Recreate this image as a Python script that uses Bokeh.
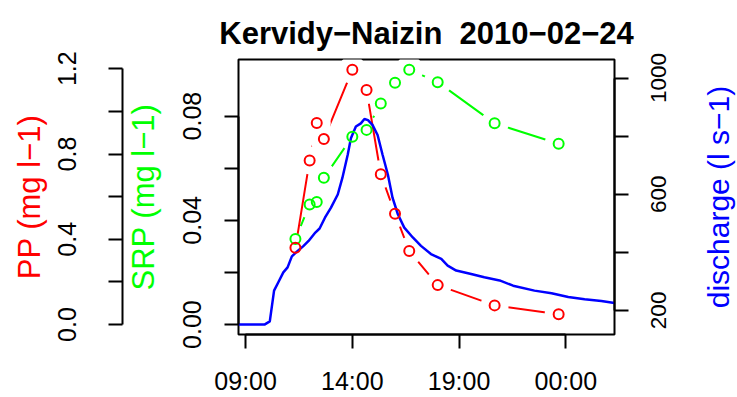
import math
import pandas as pd
from bokeh.plotting import figure
from bokeh.models import Range1d, LinearAxis, FixedTicker, DatetimeTickFormatter, Label
from bokeh.embed import file_html
from bokeh.resources import INLINE

# ---- data ----
TITLE = "Kervidy\u2212Naizin \u00a02010\u221202\u221224"
SAMPLE_TIMES = ["2010-02-24 11:20", "2010-02-24 12:00", "2010-02-24 12:20", "2010-02-24 12:40",
                "2010-02-24 14:00", "2010-02-24 14:40", "2010-02-24 15:20", "2010-02-24 16:00",
                "2010-02-24 16:40", "2010-02-24 18:00", "2010-02-24 20:40", "2010-02-24 23:40"]
PP = [0.36, 0.77, 0.945, 0.87, 1.195, 1.10, 0.705, 0.52, 0.345, 0.185, 0.09, 0.048]
SRP = [0.0328, 0.0461, 0.0470, 0.0563, 0.0721, 0.0747, 0.0848, 0.0928, 0.0978, 0.0930, 0.0772, 0.0694]

Q_TIMES = ["2010-02-24 08:40", "2010-02-24 09:53", "2010-02-24 10:08", "2010-02-24 10:20",
           "2010-02-24 10:32", "2010-02-24 10:46", "2010-02-24 10:58", "2010-02-24 11:10",
           "2010-02-24 11:24", "2010-02-24 11:43", "2010-02-24 11:57", "2010-02-24 12:16",
           "2010-02-24 12:28", "2010-02-24 12:43", "2010-02-24 13:00", "2010-02-24 13:19",
           "2010-02-24 13:32", "2010-02-24 13:47", "2010-02-24 13:56", "2010-02-24 14:10",
           "2010-02-24 14:24", "2010-02-24 14:34", "2010-02-24 14:44", "2010-02-24 14:57",
           "2010-02-24 15:11", "2010-02-24 15:25", "2010-02-24 15:40", "2010-02-24 15:53",
           "2010-02-24 16:08", "2010-02-24 16:26", "2010-02-24 16:50", "2010-02-24 17:13",
           "2010-02-24 17:41", "2010-02-24 18:10", "2010-02-24 18:28", "2010-02-24 18:52",
           "2010-02-24 19:34", "2010-02-24 20:11", "2010-02-24 20:54", "2010-02-24 21:32",
           "2010-02-24 22:32", "2010-02-24 23:20", "2010-02-25 00:07", "2010-02-25 00:53",
           "2010-02-25 01:40", "2010-02-25 02:17"]
Q = [151, 151, 162, 268, 297, 331, 348, 386, 402, 422, 439, 468, 482, 519, 554, 599,
     656, 736, 793, 833, 844, 859, 855, 838, 804, 736, 667, 588, 531, 485, 451, 422,
     394, 377, 354, 337, 325, 314, 303, 285, 268, 259, 246, 238, 232, 225]

X_TICKS = ["2010-02-24 09:00", "2010-02-24 14:00", "2010-02-24 19:00", "2010-02-25 00:00"]
SRP_TICKS = [0.0, 0.04, 0.08]
SRP_MINOR = [0.02, 0.06]
PP_TICKS = [0.0, 0.4, 0.8, 1.2]
PP_MINOR = [0.2, 0.6, 1.0]
Q_TICKS = [200, 600, 1000]
Q_MINOR = [400, 800]

st = pd.to_datetime(SAMPLE_TIMES)
qt = pd.to_datetime(Q_TIMES)
xt = pd.to_datetime(X_TICKS)
xt_ms = [t.value / 1e6 for t in xt]
x0_ms, x1_ms = qt[0].value / 1e6, qt[-1].value / 1e6

# ---- layout (pixels) ----
W, H = 737, 397
FRAME_L, FRAME_R, FRAME_T, FRAME_B = 238, 614, 59, 336
Y0, Y1 = -0.0038, 0.1017          # SRP (main) y range


def px_to_x(px):
    """canvas x pixel -> x data value, through the frame geometry"""
    return x0_ms + (px - FRAME_L) / (FRAME_R - FRAME_L) * (x1_ms - x0_ms)


def py_to_y(py):
    """canvas y pixel -> main y data value, through the frame geometry"""
    return Y0 + (FRAME_B - py) / (FRAME_B - FRAME_T) * (Y1 - Y0)


FONT = "Liberation Sans"
RED, GREEN, BLUE = "#FF0000", "#00FF00", "#0000FF"

p = figure(width=W, height=H, x_axis_type="datetime",
           output_backend="svg", toolbar_location=None,
           x_range=Range1d(qt[0], qt[-1]),
           y_range=Range1d(Y0, Y1),
           min_border_left=FRAME_L, min_border_right=W - FRAME_R,
           min_border_top=FRAME_T, min_border_bottom=H - FRAME_B)
p.extra_y_ranges = {"pp": Range1d(-0.0466, 1.2433), "q": Range1d(116.9, 1063.9)}
p.grid.visible = False
p.outline_line_color = "black"
p.outline_line_width = 2
p.background_fill_color = "white"
p.border_fill_color = "white"


def style_axis(ax, standoff=15):
    ax.axis_line_width = 2
    ax.axis_line_color = "black"
    ax.major_tick_line_width = 2
    ax.minor_tick_line_width = 2
    ax.major_tick_in = 0
    ax.major_tick_out = 14
    ax.minor_tick_in = 0
    ax.minor_tick_out = 14
    ax.major_label_text_font = FONT
    ax.major_label_text_font_size = "25px"
    ax.major_label_text_color = "black"
    ax.major_label_standoff = standoff
    ax.axis_label_text_font = FONT
    ax.axis_label_text_font_size = "31px"
    ax.axis_label_text_font_style = "normal"


# x axis
xa = p.xaxis[0]
style_axis(xa, standoff=18)
xa.ticker = FixedTicker(ticks=xt_ms, minor_ticks=[])
fmt = "%H:%M"
xa.formatter = DatetimeTickFormatter(minutes=fmt, hourmin=fmt, hours=fmt, days=fmt,
                                     months=fmt, years=fmt)
xa.bounds = (xt_ms[0], xt_ms[-1])

# SRP axis (inner left)
sa = p.yaxis[0]
style_axis(sa, standoff=23)
sa.ticker = FixedTicker(ticks=SRP_TICKS, minor_ticks=SRP_MINOR)
sa.major_label_overrides = {0.0: "0.00", 0.04: "0.04", 0.08: "0.08"}
sa.major_label_orientation = "vertical"
sa.axis_label = "SRP (mg l\u22121)"
sa.axis_label_text_color = GREEN
sa.axis_label_standoff = 20
sa.bounds = (0, 0.08)

# PP axis (outer left)
pa = LinearAxis(y_range_name="pp")
style_axis(pa, standoff=32)
pa.ticker = FixedTicker(ticks=PP_TICKS, minor_ticks=PP_MINOR)
pa.major_label_overrides = {0.0: "0.0", 0.4: "0.4", 0.8: "0.8", 1.2: "1.2"}
pa.major_label_orientation = "vertical"
pa.axis_label = "PP (mg l\u22121)"
pa.axis_label_text_color = RED
pa.axis_label_standoff = 9
pa.bounds = (0, 1.2)
p.add_layout(pa, "left")

# discharge axis (right): ticks only; its labels are rotated Labels placed next to it
qa = LinearAxis(y_range_name="q")
style_axis(qa, standoff=0)
qa.ticker = FixedTicker(ticks=Q_TICKS, minor_ticks=Q_MINOR)
qa.major_label_overrides = {v: "" for v in Q_TICKS}
qa.bounds = (200, 1000)
p.add_layout(qa, "right")

# discharge tick labels, centred on their ticks, reading bottom to top
for v in Q_TICKS:
    p.add_layout(Label(x=px_to_x(658), y=v, y_range_name="q", text=str(v),
                       angle=math.pi / 2, text_align="center", text_baseline="middle",
                       text_font=FONT, text_font_size="22.5px", text_color="black"), "right")

# right axis title (reads bottom to top)
p.add_layout(Label(x=px_to_x(718), y=py_to_y((FRAME_T + FRAME_B) / 2),
                   text="discharge (l s\u22121)", angle=math.pi / 2,
                   text_align="center", text_baseline="middle",
                   text_font=FONT, text_font_size="30px", text_color=BLUE), "right")

# plot title, baseline 33 px below the top of the canvas
p.add_layout(Label(x=px_to_x((FRAME_L + FRAME_R) / 2), y=py_to_y(33),
                   text=TITLE, text_align="center", text_baseline="alphabetic",
                   text_font=FONT, text_font_size="31px", text_font_style="bold",
                   text_color="black"), "above")

# series: lines with gaps around points (R type "b")
p.line(st, SRP, line_color=GREEN, line_width=2)
p.scatter(st, SRP, size=28, fill_color="white", line_color=None)
p.line(st, PP, line_color=RED, line_width=2, y_range_name="pp")
p.scatter(st, PP, size=28, fill_color="white", line_color=None, y_range_name="pp")
p.line(qt, Q, line_color=BLUE, line_width=2.5, y_range_name="q")
p.scatter(st, SRP, size=10, fill_color=None, line_color=GREEN, line_width=2)
p.scatter(st, PP, size=10, fill_color=None, line_color=RED, line_width=2, y_range_name="pp")

open("out.html", "w").write(file_html(p, INLINE))
